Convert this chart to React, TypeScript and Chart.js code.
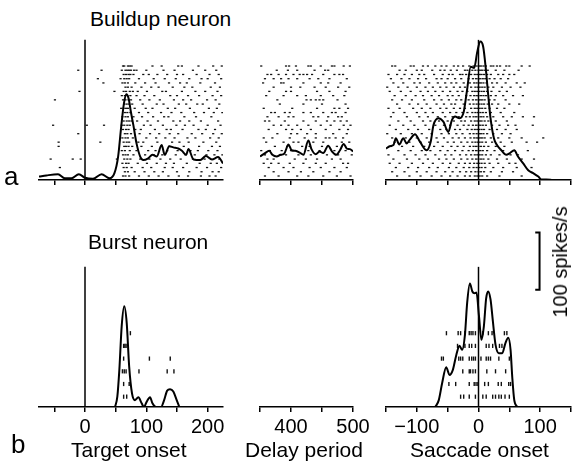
import React, { useEffect, useRef } from 'react';
import { Chart, registerables } from 'chart.js';

Chart.register(...registerables);

const FONT = "'Liberation Sans', Arial, Helvetica, sans-serif";

// ---------- axis ticks ----------
const targetTicks = [-50, 0, 50, 100, 150, 200];
const targetLabels = [0, 100, 200];
const delayTicks = [350, 400, 450, 500];
const delayLabels = [400, 500];
const saccadeTicks = [-150, -100, -50, 0, 50, 100, 150];
const saccadeLabels = [-100, 0, 100];

// ---------- spike density functions (ms, spikes/s) ----------
const buildupTargetTime = [-75, -63, -44, -33, -22, -10, 0, 13, 27, 40, 48, 54, 59, 63.5, 67.5, 71, 75, 79, 84, 90, 95, 103, 110, 117, 125, 130, 137.5, 144, 152, 158, 165, 168.5, 177, 188, 197, 207, 217, 225];
const buildupTargetRate = [6, 8, 10, 3, 3, 10, 4, 2, 10, 3, 12, 41, 93, 134, 150, 143, 118, 95, 64, 41, 35, 38, 44, 41, 61, 44, 59, 57, 55, 51, 44, 54, 36, 35, 42, 36, 40, 29];

const buildupDelayTime = [350, 358, 365, 370, 377, 383, 389, 396, 401, 407, 414, 420, 428, 433, 440, 446, 452, 460, 466, 473, 479, 485, 490, 495, 500];
const buildupDelayRate = [41, 47, 51, 44, 41, 44, 46, 62, 52, 51, 48, 44, 69, 54, 45, 50, 47, 60, 50, 44, 52, 63, 55, 54, 50];

const buildupSaccadeTime = [-150, -144, -138, -134, -128.5, -122, -116.5, -111, -103, -95, -84, -77.5, -73, -65, -57, -49, -43, -38, -31, -24, -19, -12.5, -7, -2, 3, 7.6, 11.8, 15.7, 19.5, 25, 30, 37, 45, 51, 58, 64, 72.5, 80.6, 88.7, 97, 102, 110, 120];
const buildupSaccadeRate = [55, 59, 61, 73, 62, 73, 64, 71, 80, 67, 52, 67, 96, 108, 102, 84, 105, 111, 108, 119, 154, 198, 196, 224, 242, 233, 195, 149, 108, 73, 61, 52, 44, 47, 52, 41, 29, 17, 12, 6, 1, 1, 0];

const burstTargetTime = [49, 52.7, 56, 59.8, 64, 68, 72, 76.6, 81.5, 87, 92.4, 96, 100.5, 106, 110, 115.8, 124, 129, 134, 138.6, 144, 149.5, 153.8];
const burstTargetRate = [0, 18, 65, 141, 176, 147, 71, 24, 12, 17, 6.5, 0, 9, 17, 6.5, 0, 0, 12, 28.6, 31, 27, 12, 0];

const burstSaccadeTime = [-70, -64.4, -59, -52.4, -47, -41.6, -36, -30.8, -26.5, -22, -18.4, -14, -10, -6.5, -3.2, 0.6, 4.8, 8.7, 12.4, 15.7, 19.5, 23.3, 27.6, 33, 38.4, 43.8, 48.2, 52, 54.7, 58, 63];
const burstSaccadeRate = [0, 12, 41.5, 69.6, 56, 65, 91, 107, 100, 126, 182, 216, 202, 199, 200, 161, 117.5, 141, 190, 202, 188, 150, 109, 94, 94, 112, 121, 100, 53, 12, 0];

// ---------- event marker and scale bar ----------
const zeroLineTime = [0, 0];
const zeroLineRate = [0, 245];
const scaleBarTime = [92, 99, 99, 92];
const scaleBarRate = [305, 305, 205, 205];

// ---------- rasters (spike times in ms, one array per trial, top trial first) ----------
const buildupTargetSpikes = [
  [62, 64, 70, 73, 76, 110, 125, 152, 158, 185, 209, 223],
  [-11, 27, 60, 66, 69, 72, 75, 80, 84, 100, 128, 146, 176, 196, 214],
  [63, 67, 71, 74, 79, 95, 104, 118, 134, 150, 160, 182, 203, 218],
  [21, 58, 64, 68, 72, 88, 112, 130, 148, 170, 190, 200, 222],
  [30, 61, 65, 70, 82, 98, 115, 137, 155, 166, 188, 212],
  [66, 70, 76, 92, 108, 120, 143, 162, 175, 205, 220],
  [-9, 48, 63, 67, 73, 78, 86, 101, 126, 132, 158, 180, 196, 216],
  [60, 65, 69, 74, 84, 97, 113, 139, 150, 168, 186, 208, 222],
  [-49, 62, 66, 71, 75, 90, 105, 122, 145, 160, 173, 199, 213],
  [64, 68, 72, 77, 94, 117, 128, 153, 165, 183, 192, 219],
  [59, 63, 67, 70, 81, 99, 110, 135, 147, 171, 202, 215],
  [65, 69, 74, 88, 103, 124, 141, 157, 178, 194, 210, 224],
  [61, 66, 70, 79, 93, 111, 129, 136, 162, 181, 206],
  [63, 68, 72, 76, 85, 102, 119, 144, 155, 170, 189, 217],
  [-52, 3, 31, 60, 64, 69, 73, 96, 107, 127, 149, 163, 177, 200, 221],
  [62, 67, 71, 82, 91, 114, 133, 140, 159, 185, 197, 212],
  [-11, 65, 69, 75, 89, 106, 121, 138, 152, 174, 191, 209, 223],
  [61, 66, 70, 78, 100, 116, 131, 146, 167, 180, 204, 218],
  [-43, 25, 63, 68, 72, 87, 95, 118, 142, 154, 169, 193, 214],
  [-43, 64, 67, 71, 77, 92, 109, 125, 137, 161, 186, 207, 220],
  [60, 65, 73, 84, 103, 115, 134, 151, 172, 184, 201, 216],
  [62, 66, 70, 79, 98, 112, 126, 148, 164, 179, 198, 211, 224],
  [-56, -20, -7, 52, 64, 69, 74, 90, 105, 123, 139, 156, 176, 195, 219],
  [61, 67, 71, 86, 101, 117, 132, 145, 166, 187, 205, 215],
  [-41, 63, 68, 76, 94, 108, 130, 143, 160, 182, 199, 222],
  [65, 70, 81, 97, 113, 127, 150, 170, 190, 208, 218],
  [62, 66, 72, 88, 104, 120, 136, 153, 168, 189, 203, 213],
];

const buildupDelaySpikes = [
  [352, 392, 397, 408, 428, 432, 448, 466, 470, 485, 495],
  [377, 395, 410, 438, 455, 460],
  [362, 368, 380, 392, 404, 414, 420, 426, 434, 452, 470, 478, 484],
  [358, 372, 384, 396, 410, 430, 444, 462, 490],
  [355, 384, 388, 420, 448, 460, 480],
  [372, 400, 415, 438, 456, 476, 494],
  [365, 392, 400, 442, 462, 488],
  [360, 388, 410, 424, 448, 468, 486],
  [378, 425, 432, 440, 446, 452, 475],
  [382, 420, 450, 488],
  [356, 402, 442, 470, 478, 492],
  [368, 374, 390, 398, 420, 432, 452, 466, 472, 488],
  [362, 380, 396, 404, 436, 444, 460, 476, 482],
  [358, 365, 390, 420, 440, 458, 470, 480, 490],
  [372, 384, 396, 410, 428, 448, 464, 485, 496],
  [364, 392, 402, 416, 432, 456, 478, 492],
  [378, 400, 410, 426, 440, 468, 490],
  [356, 370, 398, 422, 440, 456, 462, 472, 484],
  [360, 388, 404, 412, 436, 452, 482, 494],
  [374, 394, 418, 430, 450, 474],
  [352, 366, 385, 400, 428, 446, 470, 488],
  [358, 384, 392, 412, 432, 458, 476, 498],
  [362, 372, 406, 424, 442, 466, 480],
  [356, 368, 380, 398, 420, 440, 456, 484, 492],
  [364, 388, 404, 430, 448, 470, 490],
  [372, 396, 416, 436, 462, 480],
  [358, 380, 410, 428, 452, 474, 496],
];

const buildupSaccadeSpikes = [
  [-140, -135, -110, -105, -90, -82, -70, -60, -52, -40, -33, -25, -15, -8, -3, 1, 4, 8, 12, 20, 24, 30, 35, 45, 50, 70, 83],
  [-128, -118, -100, -92, -75, -62, -55, -45, -35, -22, -18, -10, -5, 0, 3, 6, 10, 15, 28, 42, 65],
  [-146, -132, -120, -108, -96, -88, -72, -58, -48, -42, -30, -26, -20, -12, -6, -2, 2, 5, 9, 14, 20, 32, 40, 50, 58],
  [-142, -125, -112, -98, -85, -68, -60, -50, -38, -28, -16, -9, -4, 0, 3, 7, 11, 18, 26, 36, 48],
  [-138, -122, -104, -95, -80, -66, -54, -44, -36, -24, -14, -7, -3, 1, 4, 8, 13, 22, 30, 44, 62, 75],
  [-148, -130, -115, -100, -86, -74, -62, -52, -40, -30, -22, -12, -5, -1, 2, 6, 10, 16, 24, 38, 52, 68],
  [-144, -126, -110, -94, -82, -70, -58, -46, -34, -26, -18, -10, -6, -2, 1, 5, 9, 14, 21, 34, 46],
  [-136, -118, -102, -90, -76, -64, -50, -42, -32, -20, -13, -7, -3, 0, 4, 8, 12, 20, 28, 40, 56, 72],
  [-140, -124, -108, -88, -72, -60, -48, -36, -28, -16, -9, -4, 0, 3, 6, 10, 18, 26, 44],
  [-132, -112, -98, -84, -68, -56, -44, -38, -24, -14, -8, -3, 1, 5, 9, 15, 22, 32, 50, 66],
  [-146, -128, -106, -92, -78, -62, -52, -40, -30, -22, -12, -6, -2, 2, 6, 11, 18, 30, 42],
  [-138, -120, -100, -86, -74, -58, -46, -36, -26, -18, -10, -5, -1, 3, 7, 12, 20, 36, 58],
  [-142, -116, -96, -82, -66, -54, -42, -32, -20, -14, -8, -4, 0, 4, 8, 14, 24, 40, 54, 72, 90],
  [-130, -110, -90, -78, -64, -50, -40, -28, -22, -12, -6, -2, 2, 5, 10, 16, 28, 46],
  [-144, -122, -104, -86, -70, -56, -46, -34, -24, -16, -9, -4, 0, 3, 7, 12, 22, 34, 48, 60, 88],
  [-134, -114, -98, -80, -62, -52, -38, -30, -18, -11, -6, -2, 1, 5, 9, 18, 30, 44, 62],
  [-148, -126, -108, -92, -76, -60, -48, -36, -26, -14, -8, -3, 1, 4, 8, 14, 24, 38, 52],
  [-140, -118, -100, -84, -68, -56, -42, -32, -22, -13, -7, -3, 0, 3, 6, 10, 20, 32, 50, 70, 105],
  [-136, -112, -94, -80, -66, -50, -40, -28, -18, -10, -5, -1, 2, 6, 12, 22, 36, 54, 78, 95],
  [-142, -124, -106, -88, -72, -58, -44, -34, -24, -14, -8, -4, 0, 4, 9, 16, 28, 42],
  [-130, -110, -92, -78, -62, -50, -38, -26, -16, -9, -4, 0, 3, 7, 14, 26, 40, 58, 80],
  [-146, -120, -102, -86, -70, -54, -44, -30, -20, -12, -6, -2, 2, 6, 12, 20, 34, 52, 64],
  [-138, -116, -96, -82, -64, -52, -40, -28, -18, -10, -4, 0, 4, 8, 16, 30, 46, 70, 90],
  [-144, -128, -108, -90, -74, -58, -46, -32, -22, -14, -7, -2, 1, 5, 10, 18, 32, 50, 60],
  [-134, -114, -98, -80, -66, -48, -36, -24, -15, -8, -3, 1, 5, 11, 24, 40, 62, 86],
  [-140, -120, -100, -84, -68, -54, -42, -30, -20, -12, -5, 0, 4, 9, 20, 38, 56],
  [-132, -112, -94, -76, -60, -46, -34, -22, -14, -6, -2, 2, 6, 14, 34, 70],
];

const burstTargetSpikes = [
  [74],
  [63, 65, 67],
  [63, 105, 139],
  [61, 64, 67, 88, 134, 145],
  [63, 72],
  [63, 68],
];

const burstSaccadeSpikes = [
  [-52, -33, -29, -22, -15, -12, -9, -5, 7, 16, 22, 42, 46],
  [-34, -22, -15, -11, -5, 12.5, 17, 23, 34, 38],
  [-60, -57, -32, -29, -25.5, -15, -11, -8, -5, 4, 12.5, 16, 19.5, 33, 50],
  [-25.5, -15, -13, -9, -5, 13.5, 27.6, 44],
  [-48, -37, -15, -7, -4, -1, 10, 16, 32, 37, 49, 52],
  [-29, -24, -15, -5, 7, 12.5, 23, 27.6, 33, 37, 43, 50],
];

// ---------- helpers ----------
const PADX = 30;
const PADT = 6;

const pts = (xs: number[], ys: number[]) => xs.map((x, i) => ({ x, y: ys[i] }));

const curve = (xs: number[], ys: number[], smooth = true, width = 2) => ({
  data: pts(xs, ys),
  yAxisID: 'y',
  showLine: true,
  borderColor: '#000',
  borderWidth: width,
  pointRadius: 0,
  pointHoverRadius: 0,
  fill: false,
  tension: 0,
  cubicInterpolationMode: smooth ? 'monotone' : 'default',
  borderJoinStyle: 'miter',
});

const raster = (rows: number[][], vertical: boolean) => ({
  data: rows.flatMap((row, i) => row.map((t) => ({ x: t, y: rows.length - i }))),
  yAxisID: 'yRows',
  showLine: false,
  pointStyle: 'line',
  pointRotation: vertical ? 90 : 0,
  pointRadius: vertical ? 2.1 : 1.1,
  pointHoverRadius: 0,
  pointBorderWidth: vertical ? 1.4 : 1.3,
  borderColor: '#111',
  backgroundColor: '#111',
  pointBorderColor: '#111',
});

const fmt = (v: number) => (v < 0 ? '\u2212' + Math.abs(v) : String(v));

type PanelProps = {
  left: number;
  top: number;
  width: number;
  height: number;
  axisH: number;
  xMin: number;
  xMax: number;
  ticks: number[];
  labels: number[];
  yMax: number;
  rowMin: number;
  rowMax: number;
  datasets: any[];
};

function Panel(p: PanelProps) {
  const ref = useRef<HTMLCanvasElement>(null);
  const cw = p.width + 2 * PADX;
  const ch = PADT + p.height + p.axisH;
  useEffect(() => {
    const chart = new Chart(ref.current as HTMLCanvasElement, {
      type: 'scatter',
      data: { datasets: p.datasets },
      options: {
        animation: false,
        responsive: false,
        devicePixelRatio: 1,
        events: [],
        layout: { padding: { left: PADX, right: PADX, top: PADT, bottom: 0 } },
        plugins: { legend: { display: false }, tooltip: { enabled: false } },
        scales: {
          x: {
            type: 'linear',
            position: 'bottom',
            min: p.xMin,
            max: p.xMax,
            afterBuildTicks: (s: any) => {
              s.ticks = p.ticks.map((v) => ({ value: v }));
            },
            afterFit: (s: any) => {
              s.height = p.axisH;
            },
            grid: {
              drawOnChartArea: false,
              drawTicks: true,
              tickLength: 5,
              color: '#000',
              lineWidth: 1.5,
            },
            border: { display: true, color: '#000', width: 1.6 },
            ticks: {
              autoSkip: false,
              maxRotation: 0,
              padding: 3,
              color: '#000',
              font: { family: FONT, size: 20 },
              callback: (v: any) => (p.labels.includes(Number(v)) ? fmt(Number(v)) : ''),
            },
          },
          y: { type: 'linear', axis: 'y', position: 'left', min: 0, max: p.yMax, display: false },
          yRows: { type: 'linear', axis: 'y', position: 'left', min: p.rowMin, max: p.rowMax, display: false },
        },
      } as any,
    });
    return () => chart.destroy();
  }, []);
  return (
    <canvas
      ref={ref}
      width={cw}
      height={ch}
      style={{ position: 'absolute', left: p.left - PADX, top: p.top - PADT, width: cw, height: ch }}
    />
  );
}

const textStyle = (left: number, top: number, size: number): React.CSSProperties => ({
  position: 'absolute',
  left,
  top,
  fontFamily: FONT,
  fontSize: size,
  lineHeight: 1,
  whiteSpace: 'nowrap',
  color: '#000',
});

export default function App() {
  const TOP = { top: 37, height: 143, axisH: 8, yMax: 250, rowMin: 0.054, rowMax: 33.86 };
  const BOT = { top: 222, height: 185, axisH: 40, yMax: 323.4, rowMin: 0.189, rowMax: 14.756 };
  const L = { left: 39, width: 184, xMin: -75, xMax: 225, ticks: targetTicks, labels: targetLabels };
  const M = { left: 260, width: 93, xMin: 350, xMax: 500, ticks: delayTicks, labels: delayLabels };
  const R = { left: 386, width: 185, xMin: -150, xMax: 150, ticks: saccadeTicks, labels: saccadeLabels };

  return (
    <div
      style={{
        position: 'fixed',
        left: 0,
        top: 0,
        width: 577,
        height: 472,
        overflow: 'hidden',
        background: '#fff',
      }}
    >
      <Panel
        {...TOP}
        {...L}
        datasets={[
          curve(buildupTargetTime, buildupTargetRate),
          curve(zeroLineTime, zeroLineRate, false, 1.5),
          raster(buildupTargetSpikes, false),
        ]}
      />
      <Panel
        {...TOP}
        {...M}
        datasets={[curve(buildupDelayTime, buildupDelayRate), raster(buildupDelaySpikes, false)]}
      />
      <Panel
        {...TOP}
        {...R}
        datasets={[
          curve(buildupSaccadeTime, buildupSaccadeRate),
          curve(zeroLineTime, zeroLineRate, false, 1.5),
          raster(buildupSaccadeSpikes, false),
        ]}
      />
      <Panel
        {...BOT}
        {...L}
        datasets={[
          curve(burstTargetTime, burstTargetRate),
          curve(zeroLineTime, zeroLineRate, false, 1.5),
          raster(burstTargetSpikes, true),
        ]}
      />
      <Panel {...BOT} {...M} datasets={[]} />
      <Panel
        {...BOT}
        {...R}
        datasets={[
          curve(burstSaccadeTime, burstSaccadeRate),
          curve(zeroLineTime, zeroLineRate, false, 1.5),
          curve(scaleBarTime, scaleBarRate, false, 2),
          raster(burstSaccadeSpikes, true),
        ]}
      />

      <div style={textStyle(90, 8, 21)}>Buildup neuron</div>
      <div style={textStyle(88, 231, 21)}>Burst neuron</div>
      <div style={textStyle(4, 163, 26)}>a</div>
      <div style={textStyle(11, 431, 26)}>b</div>
      <div style={textStyle(71, 439, 21)}>Target onset</div>
      <div style={textStyle(245, 439, 21)}>Delay period</div>
      <div style={textStyle(410, 439, 21)}>Saccade onset</div>
      <div
        style={{
          ...textStyle(560, 262, 20),
          transform: 'translate(-50%, -50%) rotate(-90deg)',
        }}
      >
        100 spikes/s
      </div>
    </div>
  );
}
